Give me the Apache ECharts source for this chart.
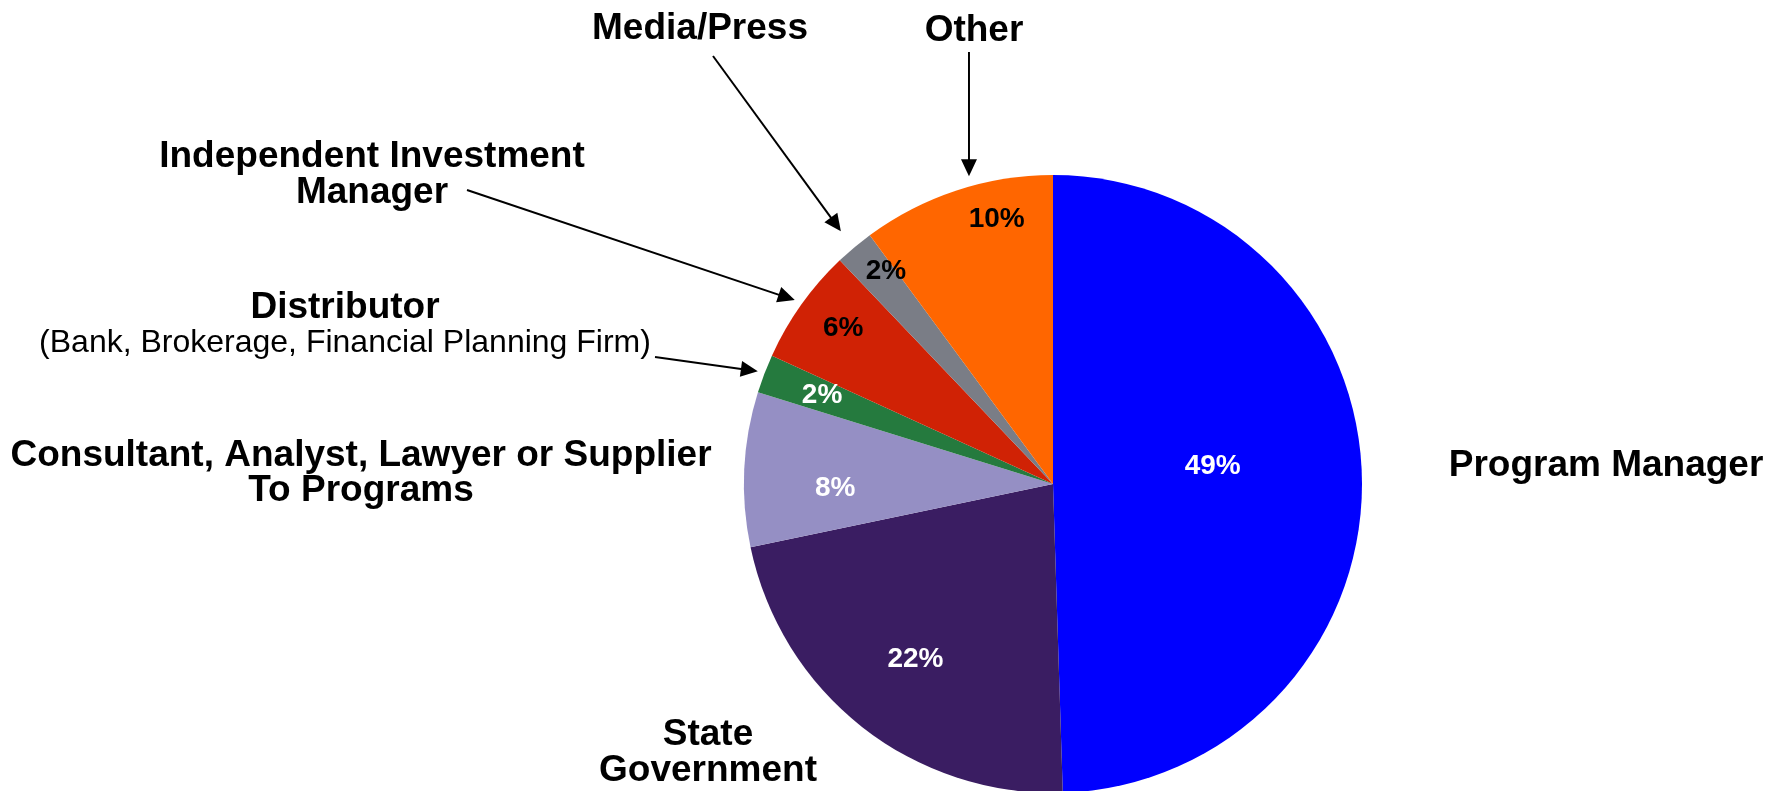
<!DOCTYPE html>
<html>
<head>
<meta charset="utf-8">
<script src="https://cdn.jsdelivr.net/npm/echarts@6/dist/echarts.min.js"></script>
<style>
  html, body { margin: 0; padding: 0; background: #ffffff; }
  #chart { width: 1770px; height: 791px; }
</style>
</head>
<body>
<div id="chart"></div>
<script>
// Respondent groups, clockwise from 12 o'clock
const categories = [
  'Program Manager',
  'State Government',
  'Consultant, Analyst, Lawyer or Supplier To Programs',
  'Distributor',
  'Independent Investment Manager',
  'Media/Press',
  'Other'
];
// Share of respondents, percent
const shares = [49, 22, 8, 2, 6, 2, 10];

// Slice colours
const sliceColors = ['#0000FF', '#3A1D62', '#958FC4', '#257A3E', '#D02205', '#7A7D86', '#FF6600'];
// Percent label styling: colour, radial position (fraction of radius), position along the slice
const pctStyle = [
  { fill: '#ffffff', rf: 0.52, af: 0.47 },
  { fill: '#ffffff', rf: 0.72, af: 0.50 },
  { fill: '#ffffff', rf: 0.705, af: 0.37 },
  { fill: '#ffffff', rf: 0.80, af: 0.50 },
  { fill: '#000000', rf: 0.845, af: 0.55 },
  { fill: '#000000', rf: 0.875, af: 0.75 },
  { fill: '#000000', rf: 0.877, af: 0.67 }
];

const BOLD = 'bold 37px "Liberation Sans", Arial, sans-serif';
const REG = '32px "Liberation Sans", Arial, sans-serif';

// Category captions placed around the pie (each line separately)
const captions = [
  { text: 'Program Manager', x: 1606, y: 466, font: BOLD },
  { text: 'State', x: 708, y: 735, font: BOLD },
  { text: 'Government', x: 708, y: 771, font: BOLD },
  { text: 'Consultant, Analyst, Lawyer or Supplier', x: 361, y: 456, font: BOLD },
  { text: 'To Programs', x: 361, y: 491, font: BOLD },
  { text: 'Distributor', x: 345, y: 308, font: BOLD },
  { text: '(Bank, Brokerage, Financial Planning Firm)', x: 345, y: 343, font: REG },
  { text: 'Independent Investment', x: 372, y: 157, font: BOLD },
  { text: 'Manager', x: 372, y: 193, font: BOLD },
  { text: 'Media/Press', x: 700, y: 29, font: BOLD },
  { text: 'Other', x: 974, y: 31, font: BOLD }
];

// Leader arrows: slice index, tail point, position along slice, gap beyond the rim
const arrows = [
  { idx: 3, from: [655, 357], af: 0.5, gap: 7 },
  { idx: 4, from: [467, 190], af: 0.5, gap: 8 },
  { idx: 5, from: [713, 56], af: 0.5, gap: 21 },
  { idx: 6, from: [null, 52], af: 0.58, gap: 10 }
];

const chart = echarts.init(document.getElementById('chart'), null, { renderer: 'canvas' });

chart.setOption({
  backgroundColor: '#ffffff',
  animation: false,
  series: [{
    type: 'pie',
    center: [1053, 484],
    radius: 309,
    startAngle: 90,
    clockwise: true,
    avoidLabelOverlap: false,
    label: { show: false },
    labelLine: { show: false },
    emphasis: { disabled: true },
    itemStyle: { borderWidth: 0 },
    data: categories.map((name, i) => ({
      name: name,
      value: shares[i],
      itemStyle: { color: sliceColors[i] }
    }))
  }]
});

// Slice geometry as laid out by the pie series
function sliceLayout(i) {
  try {
    const lay = chart.getModel().getSeriesByIndex(0).getData().getItemLayout(i);
    if (lay && isFinite(lay.startAngle)) return lay;
  } catch (e) {}
  const total = shares.reduce((a, b) => a + b, 0);
  let acc = 0;
  for (let k = 0; k < i; k++) acc += shares[k];
  const s = -Math.PI / 2 + acc / total * Math.PI * 2;
  return { cx: 1053, cy: 484, r: 309, startAngle: s, endAngle: s + shares[i] / total * Math.PI * 2 };
}

function pointOn(i, af, rad) {
  const lay = sliceLayout(i);
  const a = lay.startAngle + (lay.endAngle - lay.startAngle) * af;
  return [lay.cx + rad * Math.cos(a), lay.cy + rad * Math.sin(a)];
}

const graphics = [];

// Percent labels inside the slices
shares.forEach((v, i) => {
  const lay = sliceLayout(i);
  const p = pointOn(i, pctStyle[i].af, lay.r * pctStyle[i].rf);
  graphics.push({
    type: 'text', x: p[0], y: p[1], silent: true, z: 10,
    style: {
      text: v + '%', fill: pctStyle[i].fill,
      font: 'bold 28px "Liberation Sans", Arial, sans-serif',
      align: 'center', verticalAlign: 'middle'
    }
  });
});

// Captions
captions.forEach(c => {
  graphics.push({
    type: 'text', x: c.x, y: c.y, silent: true, z: 10,
    style: { text: c.text, fill: '#000000', font: c.font, align: 'center', verticalAlign: 'middle' }
  });
});

// Arrows from captions to their slices
arrows.forEach(ar => {
  const lay = sliceLayout(ar.idx);
  const tip = pointOn(ar.idx, ar.af, lay.r + ar.gap);
  const tail = [ar.from[0] === null ? tip[0] : ar.from[0], ar.from[1]];
  const dx = tip[0] - tail[0], dy = tip[1] - tail[1];
  const len = Math.sqrt(dx * dx + dy * dy);
  const ux = dx / len, uy = dy / len;
  const head = 17, half = 8;
  const bx = tip[0] - ux * head, by = tip[1] - uy * head;
  graphics.push({
    type: 'line', silent: true, z: 10,
    shape: { x1: tail[0], y1: tail[1], x2: bx + ux * 2, y2: by + uy * 2 },
    style: { stroke: '#000000', lineWidth: 2 }
  });
  graphics.push({
    type: 'polygon', silent: true, z: 10,
    shape: { points: [tip, [bx - uy * half, by + ux * half], [bx + uy * half, by - ux * half]] },
    style: { fill: '#000000' }
  });
});

chart.setOption({ graphic: graphics });
</script>
</body>
</html>
